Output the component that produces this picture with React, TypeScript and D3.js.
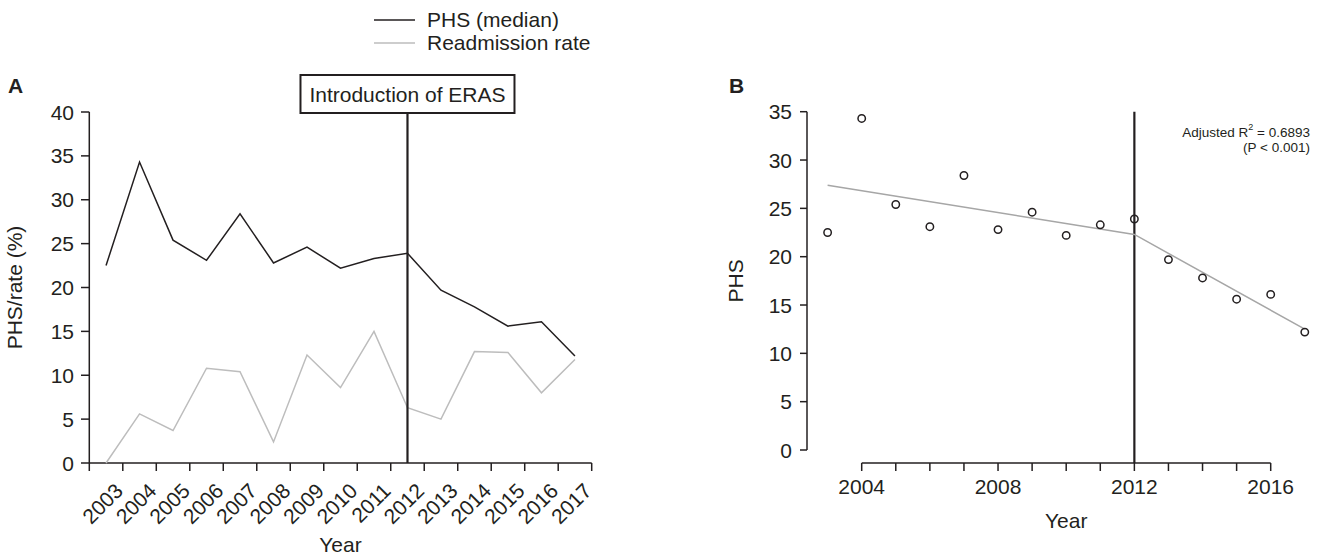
import React, { useEffect, useRef } from 'react';
import * as d3 from 'd3';

const years = [2003, 2004, 2005, 2006, 2007, 2008, 2009, 2010, 2011, 2012, 2013, 2014, 2015, 2016, 2017];
const phsMedian = [22.5, 34.3, 25.4, 23.1, 28.4, 22.8, 24.6, 22.2, 23.3, 23.9, 19.7, 17.8, 15.6, 16.1, 12.2];
const readmissionRate = [0, 5.6, 3.7, 10.8, 10.4, 2.4, 12.3, 8.6, 15.0, 6.3, 5.0, 12.7, 12.6, 8.0, 11.8];

// piecewise fit shown in panel B
const fitYears = [2003, 2012, 2017];
const fitValues = [27.4, 22.3, 12.5];

const yTicksA = [0, 5, 10, 15, 20, 25, 30, 35, 40];
const yTicksB = [0, 5, 10, 15, 20, 25, 30, 35];
const xTickYearsB = [2004, 2005, 2006, 2007, 2008, 2009, 2010, 2011, 2012, 2013, 2014, 2015, 2016];
const xLabelYearsB = [2004, 2008, 2012, 2016];
const erasYear = 2012;

const INK = '#231f20';
const FONT = '"Liberation Sans", Arial, Helvetica, sans-serif';
const FS = 21;

const App = () => {
    const ref = useRef<SVGSVGElement>(null);

    useEffect(() => {
        document.body.style.margin = '0';
        const svg = d3.select(ref.current);
        svg.selectAll('*').remove();
        svg.attr('font-family', FONT).attr('fill', INK);

        // ---------- legend ----------
        const legend = svg.append('g');
        [['PHS (median)', INK, 20, 27], ['Readmission rate', '#bdbdbd', 43, 50]].forEach(([label, color, ly, ty]) => {
            legend.append('line').attr('x1', 374).attr('x2', 415).attr('y1', ly).attr('y2', ly)
                .attr('stroke', color as string).attr('stroke-width', 1.5);
            legend.append('text').attr('x', 427).attr('y', ty).attr('font-size', FS).text(label as string);
        });

        // ---------- panel A ----------
        const a = svg.append('g');
        a.append('text').attr('x', 8).attr('y', 93).attr('font-size', 21).attr('font-weight', 'bold').text('A');

        const xA = d3.scaleBand<string>().domain(years.map(String)).range([89.3, 591.7]);
        const yA = d3.scaleLinear().domain([0, 40]).range([463, 112]);
        const bw = xA.bandwidth();
        const cx = (yr: number) => (xA(String(yr)) as number) + bw / 2;

        // y axis
        a.append('line').attr('x1', 89.3).attr('x2', 89.3).attr('y1', yA(40)).attr('y2', yA(0))
            .attr('stroke', INK).attr('stroke-width', 1.5);
        yTicksA.forEach(t => {
            a.append('line').attr('x1', 81).attr('x2', 89.3).attr('y1', yA(t)).attr('y2', yA(t))
                .attr('stroke', INK).attr('stroke-width', 1.5);
            a.append('text').attr('x', 74).attr('y', yA(t)).attr('dy', '0.36em').attr('text-anchor', 'end')
                .attr('font-size', FS).text(t);
        });
        a.append('text').attr('transform', `translate(22,${(yA(0) + yA(40)) / 2}) rotate(-90)`)
            .attr('text-anchor', 'middle').attr('font-size', FS).text('PHS/rate (%)');

        // x axis (ticks at band edges)
        a.append('line').attr('x1', 89.3).attr('x2', 591.7).attr('y1', yA(0)).attr('y2', yA(0))
            .attr('stroke', INK).attr('stroke-width', 1.5);
        d3.range(years.length + 1).forEach(i => {
            const tx = 89.3 + i * bw;
            a.append('line').attr('x1', tx).attr('x2', tx).attr('y1', yA(0)).attr('y2', yA(0) + 8)
                .attr('stroke', INK).attr('stroke-width', 1.5);
        });
        years.forEach(yr => {
            a.append('text').attr('transform', `translate(${cx(yr) + 7},481) rotate(-45)`)
                .attr('text-anchor', 'end').attr('dy', '0.75em').attr('font-size', FS).text(yr);
        });
        a.append('text').attr('x', (89.3 + 591.7) / 2).attr('y', 552).attr('text-anchor', 'middle')
            .attr('font-size', FS).text('Year');

        const lineA = (vals: number[]) => d3.line<number>().x((_, i) => cx(years[i])).y(d => yA(d))(vals);
        a.append('path').attr('d', lineA(readmissionRate)).attr('fill', 'none')
            .attr('stroke', '#bdbdbd').attr('stroke-width', 1.5);
        a.append('path').attr('d', lineA(phsMedian)).attr('fill', 'none')
            .attr('stroke', INK).attr('stroke-width', 1.5);

        // ERAS marker
        const ex = cx(erasYear);
        a.append('line').attr('x1', ex).attr('x2', ex).attr('y1', 113).attr('y2', yA(0))
            .attr('stroke', INK).attr('stroke-width', 2.2);
        a.append('rect').attr('x', ex - 107).attr('y', 75).attr('width', 214).attr('height', 38)
            .attr('fill', 'white').attr('stroke', INK).attr('stroke-width', 2);
        a.append('text').attr('x', ex).attr('y', 101.5).attr('text-anchor', 'middle')
            .attr('font-size', FS).text('Introduction of ERAS');

        // ---------- panel B ----------
        const b = svg.append('g');
        b.append('text').attr('x', 729).attr('y', 93).attr('font-size', 21).attr('font-weight', 'bold').text('B');

        const xB = d3.scaleLinear().domain([2004, 2016]).range([861.7, 1270.7]);
        const yB = d3.scaleLinear().domain([0, 35]).range([450, 111.7]);

        b.append('line').attr('x1', 807).attr('x2', 807).attr('y1', yB(35)).attr('y2', yB(0))
            .attr('stroke', INK).attr('stroke-width', 1.5);
        yTicksB.forEach(t => {
            b.append('line').attr('x1', 800).attr('x2', 807).attr('y1', yB(t)).attr('y2', yB(t))
                .attr('stroke', INK).attr('stroke-width', 1.5);
            b.append('text').attr('x', 792).attr('y', yB(t)).attr('dy', '0.36em').attr('text-anchor', 'end')
                .attr('font-size', FS).text(t);
        });
        b.append('text').attr('transform', `translate(743,${(yB(0) + yB(35)) / 2}) rotate(-90)`)
            .attr('text-anchor', 'middle').attr('font-size', FS).text('PHS');

        const axisY = 463;
        b.append('line').attr('x1', xB(2004)).attr('x2', xB(2016)).attr('y1', axisY).attr('y2', axisY)
            .attr('stroke', INK).attr('stroke-width', 1.5);
        xTickYearsB.forEach(t => {
            b.append('line').attr('x1', xB(t)).attr('x2', xB(t)).attr('y1', axisY).attr('y2', axisY + 8)
                .attr('stroke', INK).attr('stroke-width', 1.5);
        });
        xLabelYearsB.forEach(t => {
            b.append('text').attr('x', xB(t)).attr('y', 494).attr('text-anchor', 'middle')
                .attr('font-size', FS).text(t);
        });
        b.append('text').attr('x', xB(2010)).attr('y', 528).attr('text-anchor', 'middle')
            .attr('font-size', FS).text('Year');

        // ERAS line
        b.append('line').attr('x1', xB(erasYear)).attr('x2', xB(erasYear)).attr('y1', yB(35)).attr('y2', axisY)
            .attr('stroke', INK).attr('stroke-width', 2.2);

        // fit line
        b.append('path')
            .attr('d', d3.line<number>().x((d) => xB(d)).y((_, i) => yB(fitValues[i]))(fitYears))
            .attr('fill', 'none').attr('stroke', '#a6a6a6').attr('stroke-width', 1.5);

        // points
        b.selectAll('circle').data(years).join('circle')
            .attr('cx', d => xB(d)).attr('cy', (_, i) => yB(phsMedian[i])).attr('r', 3.7)
            .attr('fill', 'none').attr('stroke', INK).attr('stroke-width', 1.5);

        const ann = b.append('text').attr('x', 1310).attr('y', 137).attr('text-anchor', 'end').attr('font-size', 13.5);
        ann.append('tspan').text('Adjusted R');
        ann.append('tspan').attr('font-size', 9).attr('dy', -7).text('2');
        ann.append('tspan').attr('dy', 7).text(' = 0.6893');
        b.append('text').attr('x', 1310).attr('y', 152).attr('text-anchor', 'end').attr('font-size', 13.5)
            .text('(P < 0.001)');
    }, []);

    return (
        <svg ref={ref} width={1323} height={555} style={{ display: 'block', background: 'white' }} />
    );
};

export default App;
